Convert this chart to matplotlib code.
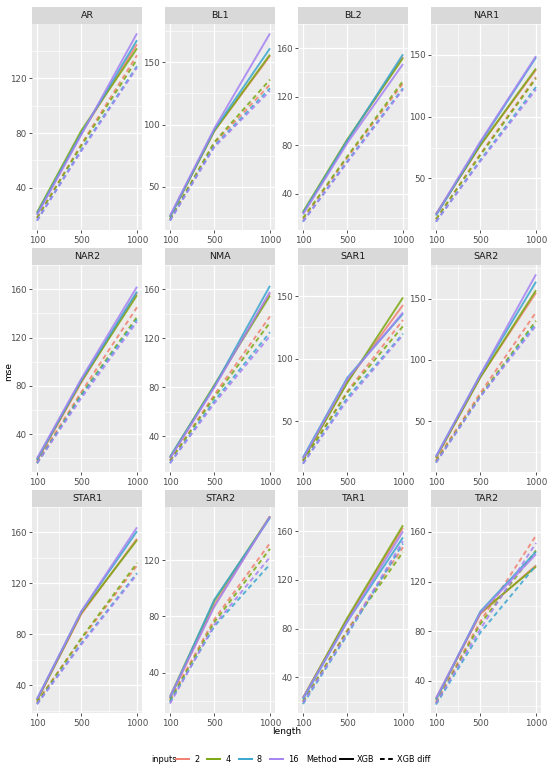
import numpy as np
import matplotlib
matplotlib.use("Agg")
import matplotlib.pyplot as plt
from matplotlib.lines import Line2D

# data
lengths = [100, 500, 1000]
inputs = ["2", "4", "8", "16"]
models = ["AR", "BL1", "BL2", "NAR1", "NAR2", "NMA", "SAR1", "SAR2",
          "STAR1", "STAR2", "TAR1", "TAR2"]

# mse for method XGB, one row per input (2, 4, 8, 16)
xgb = {
    "AR":    [[21, 80, 145], [22, 82, 142], [21, 80, 148], [20, 79, 153]],
    "BL1":   [[26, 95, 155], [26, 95, 156], [26, 96, 161], [27, 97, 173]],
    "BL2":   [[24, 84, 153], [25, 85, 152], [24, 84, 155], [23, 82, 147]],
    "NAR1":  [[21, 77, 138], [21, 77, 139], [20, 79, 148], [21, 80, 149]],
    "NAR2":  [[18, 83, 157], [19, 84, 155], [19, 85, 158], [20, 86, 162]],
    "NMA":   [[22, 81, 157], [23, 82, 155], [23, 81, 163], [22, 80, 158]],
    "SAR1":  [[20, 82, 143], [19, 81, 149], [21, 85, 136], [20, 84, 137]],
    "SAR2":  [[20, 86, 155], [20, 86, 157], [21, 88, 164], [21, 88, 170]],
    "STAR1": [[28, 96, 155], [28, 97, 154], [29, 98, 161], [29, 98, 164]],
    "STAR2": [[22, 88, 151], [23, 91, 151], [22, 92, 150], [23, 87, 151]],
    "TAR1":  [[23, 88, 163], [23, 89, 165], [22, 86, 155], [23, 86, 160]],
    "TAR2":  [[26, 94, 133], [25, 95, 132], [25, 96, 144], [26, 95, 142]],
}

# mse for method XGB diff
xgb_diff = {
    "AR":    [[18, 72, 137], [18, 71, 134], [16, 68, 129], [16, 67, 128]],
    "BL1":   [[24, 85, 132], [24, 86, 136], [23, 83, 129], [23, 82, 127]],
    "BL2":   [[19, 70, 131], [20, 71, 133], [17, 67, 127], [17, 66, 126]],
    "NAR1":  [[17, 70, 132], [17, 69, 131], [15, 65, 124], [15, 64, 122]],
    "NAR2":  [[17, 75, 145], [16, 73, 137], [16, 72, 135], [16, 70, 133]],
    "NMA":   [[20, 74, 138], [20, 72, 133], [18, 69, 125], [18, 67, 122]],
    "SAR1":  [[18, 74, 131], [18, 73, 126], [16, 69, 120], [16, 67, 119]],
    "SAR2":  [[18, 73, 139], [17, 71, 132], [16, 70, 130], [16, 70, 128]],
    "STAR1": [[27, 76, 134], [26, 77, 136], [25, 73, 128], [25, 72, 127]],
    "STAR2": [[21, 78, 132], [20, 76, 128], [19, 73, 117], [18, 74, 122]],
    "TAR1":  [[20, 79, 147], [20, 78, 143], [18, 75, 150], [19, 76, 152]],
    "TAR2":  [[23, 88, 157], [22, 86, 145], [21, 79, 133], [22, 82, 151]],
}

y_ticks = {
    "AR": [40, 80, 120], "BL1": [50, 100, 150], "BL2": [40, 80, 120, 160],
    "NAR1": [50, 100, 150], "NAR2": [40, 80, 120, 160], "NMA": [40, 80, 120, 160],
    "SAR1": [50, 100, 150], "SAR2": [50, 100, 150], "STAR1": [40, 80, 120, 160],
    "STAR2": [40, 80, 120], "TAR1": [40, 80, 120, 160], "TAR2": [40, 80, 120, 160],
}

colors = ["#F08070", "#7CA812", "#3AA6CF", "#A582F2"]
dash = (2.4, 1.8)

W, H = 550, 772
fig = plt.figure(figsize=(W / 100, H / 100), dpi=100)
fig.patch.set_facecolor("white")

col_left = [32, 165, 298, 431]
panel_w = 110
strip_top = [7, 248, 490]
strip_h = 17
panel_bot = [230, 472, 713]

def fbox(x0, y0, w, h):
    # pixel box (top-left origin) -> figure fraction
    return [x0 / W, 1 - (y0 + h) / H, w / W, h / H]

for i, m in enumerate(models):
    r, c = divmod(i, 4)
    top = strip_top[r] + strip_h
    ax = fig.add_axes(fbox(col_left[c], top, panel_w, panel_bot[r] - top))
    ax.set_facecolor("#EBEBEB")
    for k in range(4):
        ax.plot(lengths, xgb[m][k], color=colors[k], lw=1.4, alpha=0.85,
                solid_capstyle="butt", zorder=3)
        ax.plot(lengths, xgb_diff[m][k], color=colors[k], lw=1.4, alpha=0.85,
                dashes=dash, zorder=3)
    ax.set_xticks([100, 500, 1000])
    ax.set_xticks([300, 750], minor=True)
    yt = y_ticks[m]
    ax.set_yticks(yt)
    step = yt[1] - yt[0]
    ax.set_yticks([t - step / 2 for t in yt] + [yt[-1] + step / 2], minor=True)
    ax.autoscale(enable=False)
    ax.grid(True, which="major", color="white", lw=0.9)
    ax.grid(True, which="minor", color="white", lw=0.45)
    ax.set_axisbelow(True)
    for s in ax.spines.values():
        s.set_visible(False)
    ax.tick_params(which="major", length=2.5, width=0.6, color="#333333",
                   labelsize=6.3, labelcolor="#4D4D4D", pad=1.5)
    ax.tick_params(which="minor", length=0)

    sax = fig.add_axes(fbox(col_left[c], strip_top[r], panel_w, strip_h))
    sax.set_facecolor("#D9D9D9")
    sax.set_xticks([])
    sax.set_yticks([])
    for s in sax.spines.values():
        s.set_visible(False)
    sax.text(0.5, 0.5, m, ha="center", va="center", fontsize=6.8,
             color="#1A1A1A", transform=sax.transAxes)

fig.text(9 / W, 1 - 372 / H, "mse", rotation=90, ha="center", va="center",
         fontsize=6.5, color="black")
fig.text(287 / W, 1 - 731 / H, "length", ha="center", va="center",
         fontsize=6.5, color="black")

# legends
ly = 1 - 759 / H
fig.text(151 / W, ly, "inputs", ha="left", va="center", fontsize=5.9)
h_inputs = [Line2D([0], [0], color=colors[k], lw=1.4) for k in range(4)]
fig.legend(h_inputs, inputs, loc="center left",
           bbox_to_anchor=(176 / W, ly), ncol=4, frameon=False,
           fontsize=5.9, handlelength=1.6, handletextpad=0.6,
           columnspacing=1.0, borderaxespad=0, borderpad=0)
fig.text(306 / W, ly, "Method", ha="left", va="center", fontsize=5.9)
h_meth = [Line2D([0], [0], color="black", lw=1.4),
          Line2D([0], [0], color="black", lw=1.4, dashes=dash)]
fig.legend(h_meth, ["XGB", "XGB diff"], loc="center left",
           bbox_to_anchor=(340 / W, ly), ncol=2, frameon=False,
           fontsize=5.9, handlelength=1.6, handletextpad=0.5,
           columnspacing=0.6, borderaxespad=0, borderpad=0)

fig.savefig("out.png", dpi=100)
